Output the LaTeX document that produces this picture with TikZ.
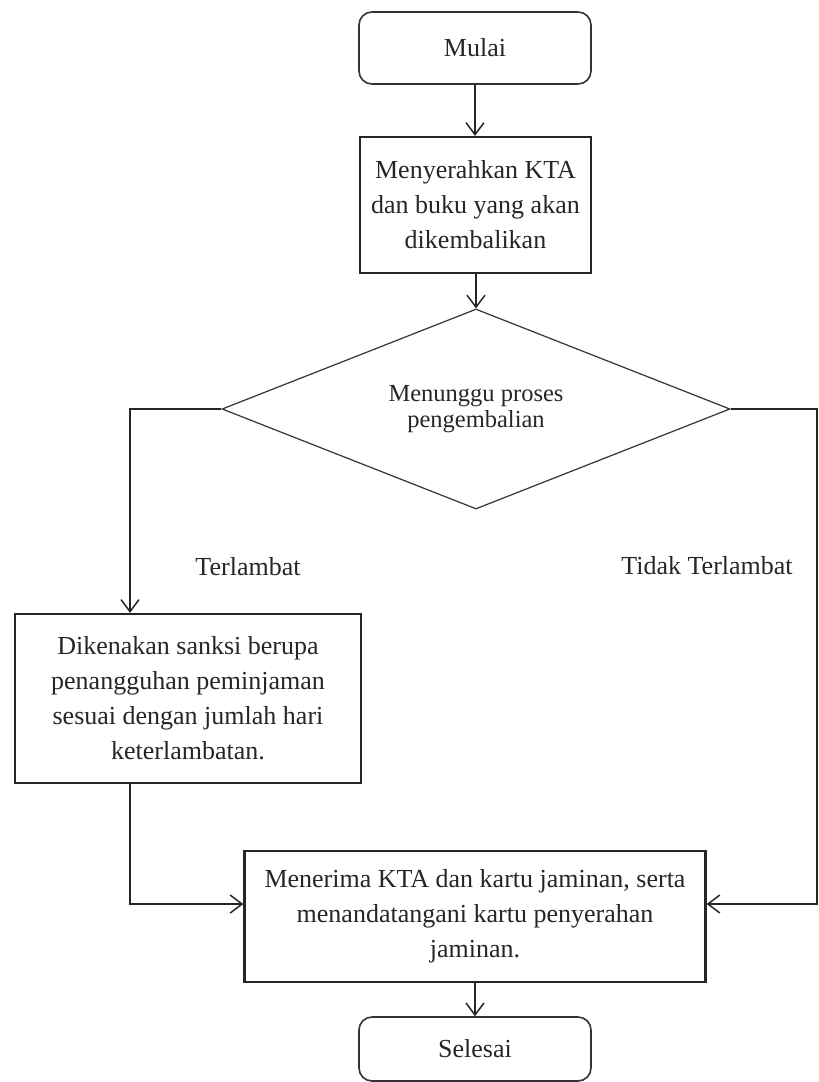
\documentclass[tikz,border=0pt]{standalone}
\usepackage{fontspec}
\setmainfont{Liberation Serif}
\usetikzlibrary{shapes.geometric,arrows.meta,calc}
\begin{document}
\begin{tikzpicture}[x=1pt,y=-1pt,
  txt/.style={font=\fontsize{26}{35}\selectfont, align=center, text=black!85},
  term/.style={txt, draw=black!80, line width=1.6pt, rounded corners=13pt, minimum width=232pt, minimum height=72pt, inner sep=0pt},
  procbox/.style={txt, draw=black!85, line width=2.2pt, inner sep=0pt},
  decbox/.style={diamond, shape aspect=2.54, draw=black!80, line width=1.2pt, inner sep=0pt, minimum width=508pt, minimum height=200pt,
     font=\fontsize{24.5}{26}\selectfont, align=center, text=black!85},
  conn/.style={draw=black!85, line width=1.5pt},
  arr/.style={conn, -{Straight Barb[length=12pt,width=18pt,line width=1.5pt]}},
  lbl/.style={txt}
]
\useasboundingbox (0,0) rectangle (819,1082);

\node[term] (mulai) at (475,48) {Mulai};
\node[procbox, minimum width=231pt, minimum height=136pt] (b2) at (475.5,205)
  {Menyerahkan KTA\\dan buku yang akan\\dikembalikan};
\node[decbox] (dia) at (476,409) {Menunggu proses\\pengembalian};
\node[procbox, minimum width=346pt, minimum height=169pt] (b3) at (188,698.5)
  {Dikenakan sanksi berupa\\penangguhan peminjaman\\sesuai dengan jumlah hari\\keterlambatan.};
\node[procbox, minimum width=461pt, minimum height=131pt] (b4) at (475,916.5)
  {Menerima KTA dan kartu jaminan, serta\\menandatangani kartu penyerahan\\jaminan.};
\node[term, minimum height=64pt] (sel) at (475,1049) {Selesai};

\node[lbl] (lt) at (248,567) {Terlambat};
\node[lbl] (ltt) at (707,566) {Tidak Terlambat};

\coordinate (lx) at (130,409);
\coordinate (rx) at (817,409);
\coordinate (jy) at (0,904);

\draw[arr] (mulai.south) -- (b2.north -| mulai.south);
\draw[arr] (b2.south -| dia.north) -- (dia.north);
\draw[arr] (dia.west) -- (lx) -- (lx |- b3.north);
\draw[arr] (lx |- b3.south) -- (lx |- jy) -- (b4.west |- jy);
\draw[arr] (dia.east) -- (rx) -- (rx |- jy) -- (b4.east |- jy);
\draw[arr] (b4.south) -- (sel.north);
\end{tikzpicture}
\end{document}
